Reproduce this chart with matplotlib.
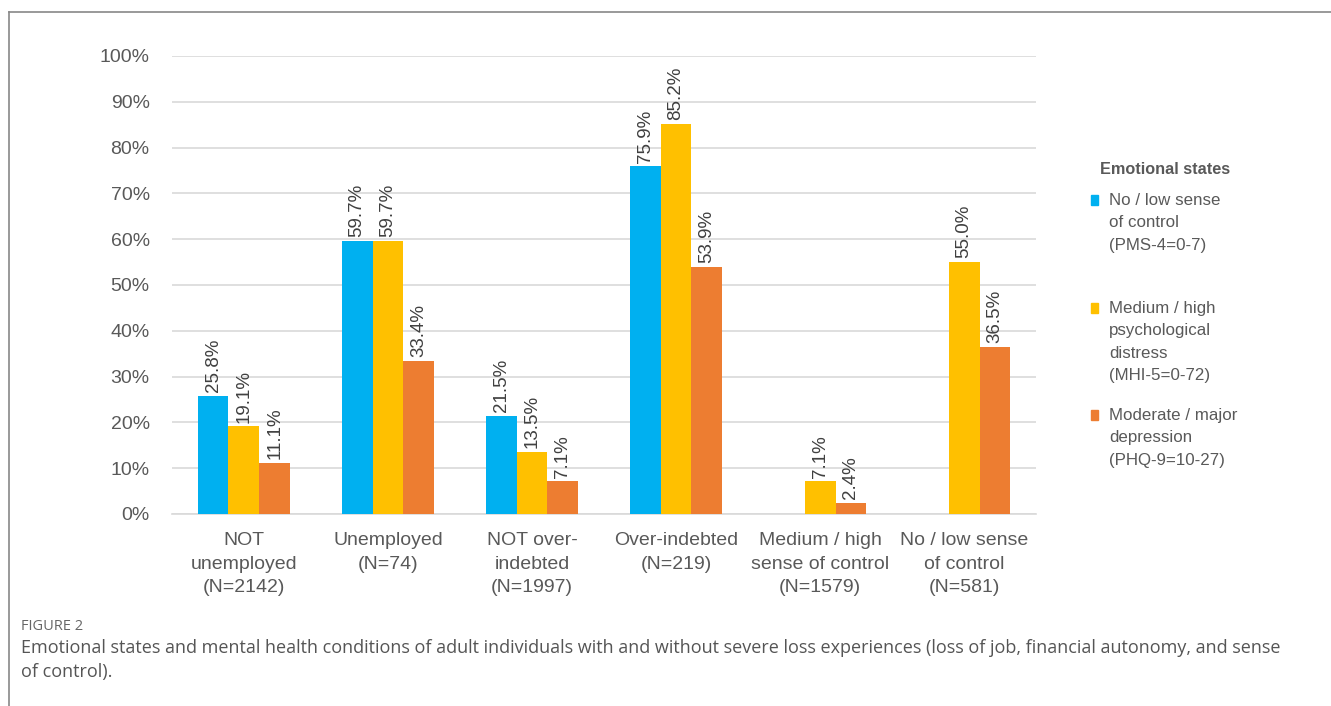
import numpy as np
import matplotlib.pyplot as plt
from matplotlib.patches import Rectangle
from matplotlib.lines import Line2D

plt.rcParams['font.family'] = ['Liberation Sans', 'DejaVu Sans']

categories = ['NOT\nunemployed\n(N=2142)', 'Unemployed\n(N=74)', 'NOT over-\nindebted\n(N=1997)',
              'Over-indebted\n(N=219)', 'Medium / high\nsense of control\n(N=1579)',
              'No / low sense\nof control\n(N=581)']
control = [25.8, 59.7, 21.5, 75.9, None, None]
distress = [19.1, 59.7, 13.5, 85.2, 7.1, 55.0]
depression = [11.1, 33.4, 7.1, 53.9, 2.4, 36.5]

series = [
    ('No / low sense\nof control\n(PMS-4=0-7)', control, '#00B0F0'),
    ('Medium / high\npsychological\ndistress\n(MHI-5=0-72)', distress, '#FFC000'),
    ('Moderate / major\ndepression\n(PHQ-9=10-27)', depression, '#ED7D31'),
]

grey = '#595959'
fig = plt.figure(figsize=(13.31, 7.06), dpi=100)
ax = fig.add_axes([0.1292, 0.2720, 0.6492, 0.6487])

x = np.arange(len(categories))
w = 0.215
for i, (name, vals, col) in enumerate(series):
    for xi, v in zip(x, vals):
        if v is None:
            continue
        xp = xi + (i - 1) * w
        ax.bar(xp, v, width=w, color=col, zorder=3)
        ax.text(xp, v + 0.8, f'{v:.1f}%', rotation=90, ha='center', va='bottom',
                fontsize=13.5, color='#404040')

ax.set_xlim(-0.5, len(categories) - 0.5)
ax.set_ylim(0, 100)
ax.set_yticks(range(0, 101, 10))
ax.set_yticklabels([f'{t}%' for t in range(0, 101, 10)])
ax.set_xticks(x)
ax.set_xticklabels(categories, linespacing=1.5)
ax.tick_params(length=0, labelsize=14, colors=grey, pad=13)
ax.tick_params(axis='y', pad=16)
ax.grid(axis='y', color='#d9d9d9', linewidth=1.2, zorder=0)
for s in ['top', 'right', 'left']:
    ax.spines[s].set_visible(False)
ax.spines['bottom'].set_color('#d9d9d9')
ax.spines['bottom'].set_linewidth(1.2)

# legend
W, H = 1331, 706
fig.text(1100 / W, 1 - 169 / H, 'Emotional states', fontsize=11.7, fontweight='bold',
         color=grey, va='center', ha='left')
tops = [200, 308, 415]
for (name, vals, col), ty in zip(series, tops):
    fig.patches.append(Rectangle((1091 / W, 1 - (ty + 5) / H), 7 / W, 10 / H,
                                 transform=fig.transFigure, color=col))
    fig.text(1109 / W, 1 - (ty - 7) / H, name, fontsize=12.2, color=grey,
             va='top', ha='left', linespacing=1.62)

# frame lines
fig.add_artist(Line2D([9 / W, 1], [1 - 12 / H, 1 - 12 / H], color='#888888', lw=1.2))
fig.add_artist(Line2D([9 / W, 9 / W], [0, 1 - 12 / H], color='#888888', lw=1.2))

fig.text(21 / W, 1 - 627 / H, 'FIGURE 2', fontsize=10.5, color='#666666', va='center',
         family=['Open Sans', 'DejaVu Sans'])
fig.text(21 / W, 1 - 648 / H,
         'Emotional states and mental health conditions of adult individuals with and without '
         'severe loss experiences (loss of job, financial autonomy, and sense',
         fontsize=13, color='#555555', va='center', family=['Open Sans', 'DejaVu Sans'])
fig.text(21 / W, 1 - 672 / H, 'of control).', fontsize=13, color='#555555', va='center',
         family=['Open Sans', 'DejaVu Sans'])

fig.savefig('out.png', dpi=100)
